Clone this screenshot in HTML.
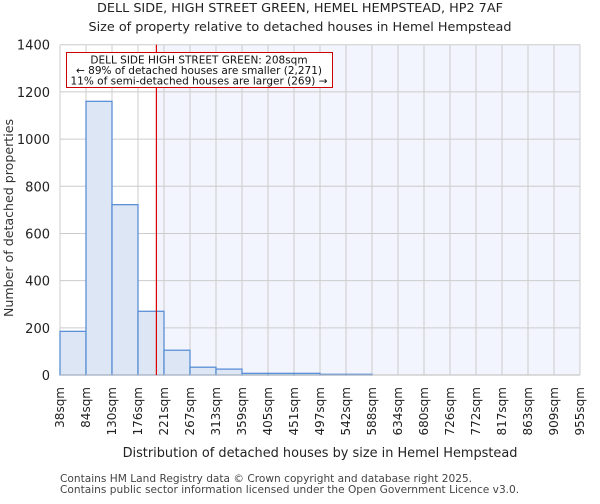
<!DOCTYPE html>
<html><head><meta charset="utf-8"><style>
body{margin:0;background:#fff;font-family:"DejaVu Sans","Liberation Sans",sans-serif;}
</style></head><body>
<svg width="600" height="500" xmlns="http://www.w3.org/2000/svg" font-family="DejaVu Sans, Liberation Sans, sans-serif">
<text x="300" y="12" text-anchor="middle" font-size="12.8" fill="#222">DELL SIDE, HIGH STREET GREEN, HEMEL HEMPSTEAD, HP2 7AF</text>
<text x="300" y="31" text-anchor="middle" font-size="12.8" fill="#222">Size of property relative to detached houses in Hemel Hempstead</text>
<g id="plot"></g>
<text x="320" y="457" text-anchor="middle" font-size="12.9" fill="#222">Distribution of detached houses by size in Hemel Hempstead</text>
<text transform="translate(13,218) rotate(-90)" text-anchor="middle" font-size="12.6" fill="#333">Number of detached properties</text>
<text x="60" y="482" font-size="10.6" fill="#444">Contains HM Land Registry data © Crown copyright and database right 2025.</text>
<text x="60" y="493" font-size="10.6" fill="#444">Contains public sector information licensed under the Open Government Licence v3.0.</text>
</svg>
<script>
const categories=["38sqm","84sqm","130sqm","176sqm","221sqm","267sqm","313sqm","359sqm","405sqm","451sqm","497sqm","542sqm","588sqm","634sqm","680sqm","726sqm","772sqm","817sqm","863sqm","909sqm","955sqm"];
const counts=[185,1160,722,270,105,33,25,7,7,7,3,3,0,0,0,0,0,0,0,0];
const yTicks=[0,200,400,600,800,1000,1200,1400];
const binStart=38, binWidth=45.85, propertySize=208;
const X0=60,X1=580,Y0=375,Y1=44.7,YMAX=1400;
const nb=counts.length;
const xs=i=>X0+(X1-X0)*i/nb;
const xv=v=>X0+(v-binStart)/binWidth*(X1-X0)/nb;
const ys=v=>Y0-(Y0-Y1)*v/YMAX;
const NS="http://www.w3.org/2000/svg";
const g=document.getElementById('plot');
function mk(t,a){const e=document.createElementNS(NS,t);for(const k in a)e.setAttribute(k,a[k]);g.appendChild(e);return e;}
const px=xv(propertySize);
let e=mk('rect',{x:px,y:Y1,width:X1-px,height:Y0-Y1,fill:'#f2f5fd'});


yTicks.forEach(t=>{let l=mk('line',{x1:X0,x2:X1,y1:ys(t),y2:ys(t),stroke:'#cccccc'});


let tx=mk('text',{x:X0-10,y:ys(t)+5,'text-anchor':'end','font-size':'13',fill:'#222'});tx.textContent=t;

});
categories.forEach((c,i)=>{const x=xs(i);let l=mk('line',{x1:x,x2:x,y1:Y1,y2:Y0,stroke:'#cccccc'});


let tx=mk('text',{transform:`translate(${x+4},${Y0+12}) rotate(-90)`,'text-anchor':'end','font-size':'12',fill:'#222'});tx.textContent=c;

});
counts.forEach((v,i)=>{if(v<=0)return;let r=mk('rect',{x:xs(i),y:ys(v),width:xs(i+1)-xs(i),height:Y0-ys(v),fill:'#dce6f4',stroke:'#5b8fd6','stroke-width':1.3});

});
e=mk('line',{x1:X0,x2:X1,y1:Y0,y2:Y0,stroke:'#bbb'});


e=mk('line',{x1:px,x2:px,y1:Y1,y2:Y0,stroke:'#d00','stroke-width':1.2});


e=mk('rect',{x:66.5,y:52.5,width:266,height:35,fill:'#fff',stroke:'#c00'});


["DELL SIDE HIGH STREET GREEN: 208sqm","← 89% of detached houses are smaller (2,271)","11% of semi-detached houses are larger (269) →"].forEach((s,i)=>{let t=mk('text',{x:199,y:63.5+i*10.5,'text-anchor':'middle','font-size':'10.5',fill:'#111'});t.textContent=s;

});
</script>
</body></html>
